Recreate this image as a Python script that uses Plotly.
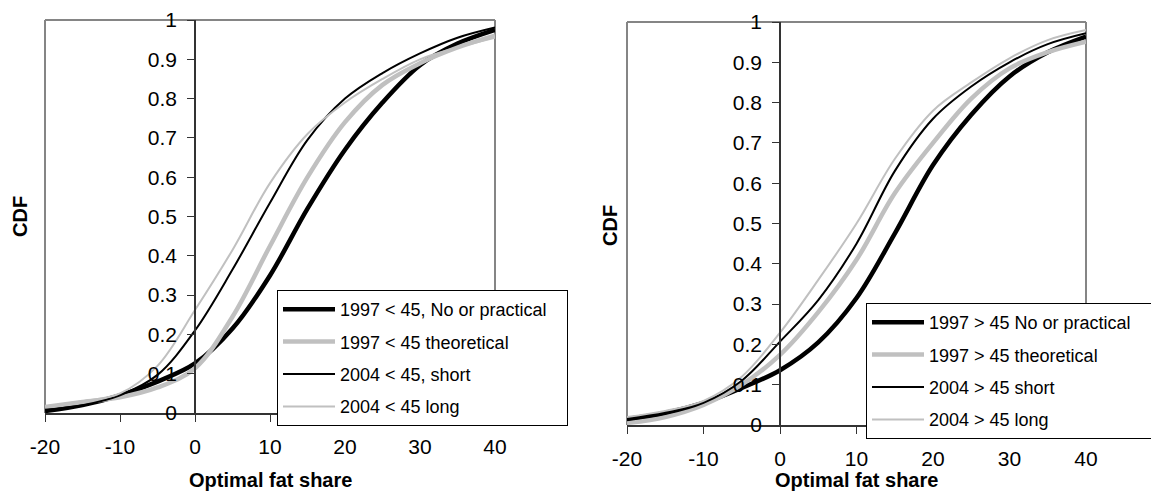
import plotly.graph_objects as go

# x positions (optimal fat share) where the curves were read
fat_share = [-20, -15, -10, -5, 0, 5, 10, 15, 20, 25, 30, 35, 40]

# left panel: under 45
young_97_practical = [0.005, 0.02, 0.045, 0.08, 0.126, 0.215, 0.35, 0.52, 0.67, 0.79, 0.885, 0.94, 0.975]
young_97_theoretical = [0.015, 0.028, 0.04, 0.065, 0.114, 0.245, 0.425, 0.6, 0.74, 0.835, 0.89, 0.93, 0.96]
young_04_short = [0.008, 0.02, 0.045, 0.097, 0.21, 0.365, 0.535, 0.695, 0.8, 0.865, 0.915, 0.955, 0.981]
young_04_long = [0.017, 0.03, 0.05, 0.12, 0.262, 0.415, 0.585, 0.71, 0.79, 0.85, 0.9, 0.93, 0.955]

# right panel: over 45
old_97_practical = [0.015, 0.03, 0.055, 0.092, 0.136, 0.205, 0.315, 0.475, 0.645, 0.77, 0.865, 0.925, 0.964]
old_97_theoretical = [0.005, 0.02, 0.05, 0.1, 0.174, 0.28, 0.41, 0.575, 0.7, 0.81, 0.885, 0.925, 0.951]
old_04_short = [0.012, 0.027, 0.055, 0.11, 0.207, 0.31, 0.45, 0.63, 0.76, 0.84, 0.9, 0.945, 0.972]
old_04_long = [0.02, 0.035, 0.06, 0.12, 0.229, 0.36, 0.5, 0.66, 0.78, 0.85, 0.91, 0.955, 0.98]

left_names = ["1997 < 45, No or practical", "1997 < 45 theoretical", "2004 < 45, short", "2004 < 45 long"]
right_names = ["1997 > 45 No or practical", "1997 > 45 theoretical", "2004 > 45 short", "2004 > 45 long"]

x_ticks = [-20, -10, 0, 10, 20, 30, 40]
x_ticktext = ["-20", "-10", "0", "10", "20", "30", "40"]

W, H = 1151, 491
FONT = "Liberation Sans, Arial, sans-serif"
GRAY = "#c0c0c0"
styles = [("black", 4.5), (GRAY, 4.5), ("black", 2), (GRAY, 2)]
PAD = "\u00a0\u00a0\u00a0"  # a little room on the right of the legend text

fig = go.Figure()

panels = [
    ("x", "y", "legend", left_names, [young_97_practical, young_97_theoretical, young_04_short, young_04_long]),
    ("x2", "y2", "legend2", right_names, [old_97_practical, old_97_theoretical, old_04_short, old_04_long]),
]
for xa, ya, leg, names, series in panels:
    for i, (name, vals) in enumerate(zip(names, series)):
        color, width = styles[i]
        fig.add_trace(go.Scatter(
            x=fat_share, y=vals, mode="lines", name=name + PAD,
            line=dict(color=color, width=width, shape="spline", smoothing=1.0),
            xaxis=xa, yaxis=ya, legend=leg, legendgroup=leg + str(i),
        ))

# pixel layout of the two plot areas
def px_x(v):
    return v / W

def px_y(v):
    return 1 - v / H

left_box = dict(x0=45, x1=495, y0=20, y1=413, yaxis_at=195)
right_box = dict(x0=627, x1=1086, y0=22, y1=425, yaxis_at=780)

axis_font = dict(family=FONT, size=21, color="black")
xcommon = dict(range=[-20, 40], tickvals=x_ticks, ticktext=x_ticktext, showgrid=False, zeroline=False,
               showline=True, linecolor="#333", linewidth=1.5, ticks="outside", ticklen=7,
               tickcolor="#333", tickfont=axis_font, ticklabelstandoff=7)
ycommon = dict(range=[0, 1], dtick=0.1, showgrid=False, zeroline=False, showline=True,
               linecolor="#333", linewidth=1.5, ticks="outside", ticklen=7, tickcolor="#333",
               tickfont=axis_font, anchor="free", side="left", ticklabelstandoff=6)

fig.update_layout(
    xaxis=dict(domain=[px_x(left_box["x0"]), px_x(left_box["x1"])], anchor="y", **xcommon),
    yaxis=dict(domain=[px_y(left_box["y1"]), px_y(left_box["y0"])],
               position=px_x(left_box["yaxis_at"]), **ycommon),
    xaxis2=dict(domain=[px_x(right_box["x0"]), px_x(right_box["x1"])], anchor="y2", **xcommon),
    yaxis2=dict(domain=[px_y(right_box["y1"]), px_y(right_box["y0"])],
                position=px_x(right_box["yaxis_at"]), **ycommon),
)

# gray frame (left, top, right) around each plot area
for xr, yr in [("x domain", "y domain"), ("x2 domain", "y2 domain")]:
    frame = dict(type="line", xref=xr, yref=yr, line=dict(color="#858585", width=2), layer="below")
    fig.add_shape(x0=0, x1=0, y0=0, y1=1, **frame)
    fig.add_shape(x0=0, x1=1, y0=1, y1=1, **frame)
    fig.add_shape(x0=1, x1=1, y0=0, y1=1, **frame)

legend_common = dict(
    xref="container", yref="container", xanchor="left", yanchor="top",
    bgcolor="white", bordercolor="black", borderwidth=1,
    font=dict(family=FONT, size=18, color="black"), tracegroupgap=6, itemwidth=52,
)
fig.update_layout(
    legend=dict(x=277 / W, y=px_y(290), **legend_common),
    legend2=dict(x=866 / W, y=px_y(303), **legend_common),
)

title_font = dict(family=FONT, size=20, color="black", weight="bold")
for x, y, text, angle in [(20, 217, "CDF", -90), (610, 226, "CDF", -90),
                          (270, 480, "Optimal fat share", 0), (856, 480, "Optimal fat share", 0)]:
    fig.add_annotation(x=px_x(x), y=px_y(y), xref="paper", yref="paper", text=text,
                       showarrow=False, textangle=angle, font=title_font,
                       xanchor="center", yanchor="middle")

fig.update_layout(
    width=W, height=H, margin=dict(l=0, r=0, t=0, b=0, autoexpand=False),
    paper_bgcolor="white", plot_bgcolor="white", showlegend=True,
)

# drop the browser's default 8px body margin so the figure sits at the page corner
fig.write_html("out.html", config={"displayModeBar": False},
               post_script="document.body.style.margin='0px';")
